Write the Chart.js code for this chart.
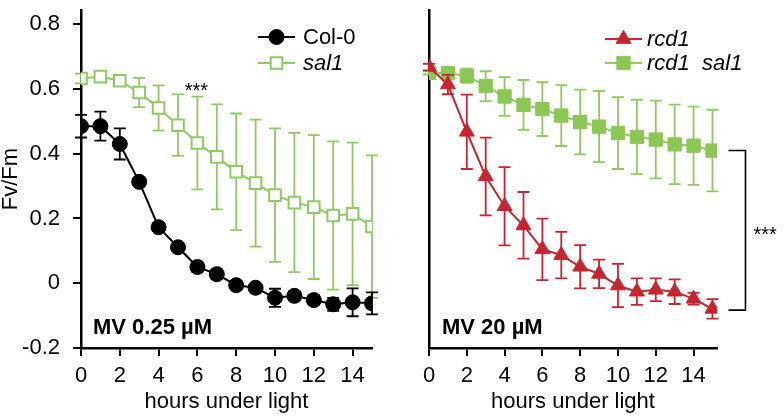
<!DOCTYPE html>
<html>
<head>
<meta charset="utf-8">
<script src="https://cdn.jsdelivr.net/npm/chart.js@4/dist/chart.umd.min.js"></script>
<style>
html,body{margin:0;padding:0;background:#fff;}
#wrap{position:relative;width:784px;height:417px;overflow:hidden;}
#c1{position:absolute;left:0;top:0;}
#c2{position:absolute;left:400px;top:0;}
</style>
</head>
<body>
<div id="wrap">
<canvas id="c1" width="400" height="417"></canvas>
<canvas id="c2" width="384" height="417"></canvas>
</div>
<script>
// ---- data ----
const hours = [0,1,2,3,4,5,6,7,8,9,10,11,12,13,14,15];
const xTicks = [0,2,4,6,8,10,12,14];
const yTicks = [-0.2,0,0.2,0.4,0.6,0.8];

const col0    = [0.485,0.485,0.430,0.313,0.173,0.111,0.050,0.028,-0.006,-0.014,-0.045,-0.039,-0.052,-0.065,-0.059,-0.062];
const col0Err = [0.035,0.045,0.048,0.010,0.012,0.012,0.015,0.015,0.012,0.010,0.028,0.015,0.015,0.020,0.043,0.034];

const sal1    = [0.632,0.638,0.625,0.589,0.541,0.488,0.433,0.390,0.344,0.309,0.272,0.249,0.235,0.209,0.214,0.175];
const sal1Err = [0.015,0.008,0.010,0.045,0.070,0.095,0.143,0.162,0.180,0.196,0.206,0.215,0.222,0.229,0.220,0.220];

const rcd1    = [0.668,0.614,0.468,0.330,0.238,0.179,0.105,0.087,0.051,0.029,-0.007,-0.026,-0.020,-0.026,-0.048,-0.079];
const rcd1Err = [0.010,0.030,0.115,0.120,0.121,0.103,0.095,0.072,0.067,0.044,0.067,0.041,0.035,0.038,0.018,0.030];

const rcdSal1    = [0.650,0.649,0.641,0.609,0.577,0.551,0.538,0.518,0.498,0.484,0.464,0.452,0.444,0.429,0.425,0.410];
const rcdSal1Err = [0.005,0.010,0.022,0.046,0.060,0.077,0.083,0.094,0.100,0.110,0.111,0.115,0.120,0.123,0.121,0.126];

const leftLabels  = ['Col-0','sal1'];
const rightLabels = ['rcd1','rcd1  sal1'];
const leftTitle = 'MV 0.25 µM';
const rightTitle = 'MV 20 µM';
const sigText = '***';

// ---- style ----
const FONT = "'Liberation Sans', Arial, Helvetica, sans-serif";
const GREEN = '#90c862';
const GREEN_FILL = '#8cc654';
const RED = '#c8242f';
Chart.defaults.font.family = FONT;
Chart.defaults.color = '#000';

const pts = arr => arr.map((v,i)=>({x:hours[i], y:v}));

const errorBarPlugin = {
  id: 'errorBars',
  beforeDatasetDraw(chart, args) {
    const ds = chart.data.datasets[args.index];
    if (!ds.errors) return;
    const xs = chart.scales.x, ys = chart.scales.y;
    const ctx = chart.ctx;
    ctx.save();
    ctx.strokeStyle = ds.borderColor;
    ctx.lineWidth = 1.8;
    const cap = 6;
    ds.data.forEach((p,i) => {
      const e = ds.errors[i];
      const x = xs.getPixelForValue(p.x);
      const yt = ys.getPixelForValue(p.y + e);
      const yb = ys.getPixelForValue(p.y - e);
      ctx.beginPath();
      ctx.moveTo(x, yt); ctx.lineTo(x, yb);
      ctx.moveTo(x-cap, yt); ctx.lineTo(x+cap, yt);
      ctx.moveTo(x-cap, yb); ctx.lineTo(x+cap, yb);
      ctx.stroke();
    });
    ctx.restore();
  }
};

const legendPlugin = {
  id: 'customLegend',
  afterDraw(chart, args, opts) {
    const ctx = chart.ctx;
    ctx.save();
    chart.data.datasets.forEach((ds, i) => {
      const y = opts.ys[i];
      const x0 = opts.x0, x1 = opts.x1, xm = (x0+x1)/2;
      ctx.strokeStyle = ds.borderColor;
      ctx.lineWidth = 2;
      ctx.beginPath(); ctx.moveTo(x0,y); ctx.lineTo(x1,y); ctx.stroke();
      ctx.fillStyle = ds.pointBackgroundColor;
      ctx.strokeStyle = ds.pointBorderColor;
      ctx.lineWidth = ds.pointBorderWidth;
      Chart.helpers.drawPoint(ctx, {
        pointStyle: ds.pointStyle, radius: ds.pointRadius, borderWidth: ds.pointBorderWidth
      }, xm, y);
      ctx.fillStyle = '#000';
      ctx.font = (opts.italic[i] ? 'italic ' : '') + '22px ' + FONT;
      ctx.textAlign = 'left';
      ctx.textBaseline = 'middle';
      ctx.fillText(ds.label, opts.tx, y + 1);
    });
    ctx.restore();
  }
};

const annotPlugin = {
  id: 'annot',
  afterDraw(chart, args, opts) {
    const ctx = chart.ctx;
    const xs = chart.scales.x, ys = chart.scales.y;
    ctx.save();
    ctx.fillStyle = '#000';
    ctx.textBaseline = 'middle';
    ctx.font = 'bold 22px ' + FONT;
    ctx.textAlign = 'left';
    ctx.fillText(opts.title, chart.chartArea.left + opts.titleDx, opts.titleY);
    ctx.textBaseline = 'alphabetic';
    if (opts.star) {
      ctx.font = '20px ' + FONT;
      ctx.textAlign = 'center';
      ctx.fillText(sigText, xs.getPixelForValue(opts.star.x), ys.getPixelForValue(opts.star.y) + 10);
    }
    if (opts.bracket) {
      const b = opts.bracket;
      const xa = xs.getPixelForValue(15) + 16;
      const xb = xa + 17;
      const ya = ys.getPixelForValue(b.top);
      const yb = ys.getPixelForValue(b.bottom);
      ctx.strokeStyle = '#000';
      ctx.lineWidth = 1.6;
      ctx.beginPath();
      ctx.moveTo(xa, ya); ctx.lineTo(xb, ya); ctx.lineTo(xb, yb); ctx.lineTo(xa, yb);
      ctx.stroke();
      ctx.font = '20px ' + FONT;
      ctx.textAlign = 'left';
      ctx.fillText(sigText, xb + 8, (ya+yb)/2 + 11);
    }
    ctx.restore();
  }
};

function makeScales(showY, yWidth, xMax) {
  return {
    x: {
      type: 'linear', min: 0, max: xMax,
      afterBuildTicks: s => { s.ticks = xTicks.map(v => ({value: v})); },
      afterFit: s => { s.height = 69; s.paddingLeft = 0; s.paddingRight = 0; },
      grid: { display: true, drawOnChartArea: false, drawTicks: true, tickLength: 8, color: '#000', lineWidth: 2 },
      border: { display: true, color: '#000', width: 2.5 },
      ticks: { font: { size: 22 }, color: '#000', padding: 7, maxRotation: 0, autoSkip: false },
      title: { display: true, text: 'hours under light', font: { size: 22 }, color: '#000', padding: { top: 0, bottom: 2 } }
    },
    y: {
      type: 'linear', min: -0.2, max: 0.843,
      afterBuildTicks: s => { s.ticks = yTicks.map(v => ({value: v})); },
      afterFit: s => { s.width = yWidth; s.paddingTop = 0; s.paddingBottom = 0; },
      grid: { display: true, drawOnChartArea: false, drawTicks: showY, tickLength: 8, color: showY ? '#000' : 'rgba(0,0,0,0)', lineWidth: 2 },
      border: { display: true, color: '#000', width: 2.5 },
      ticks: { display: showY, font: { size: 22 }, color: '#000', padding: 13,
               callback: v => (Math.abs(v) < 1e-9 ? '0' : v.toFixed(1)) },
      title: { display: showY, text: 'Fv/Fm', font: { size: 22, lineHeight: 1 }, color: '#000', padding: { top: 0, bottom: 0 } }
    }
  };
}

const commonOpts = {
  responsive: false,
  animation: false,
  devicePixelRatio: 1,
  plugins: { legend: { display: false }, tooltip: { enabled: false } },
};

new Chart(document.getElementById('c1'), {
  type: 'line',
  data: { datasets: [
    { label: leftLabels[0], data: pts(col0), errors: col0Err, borderColor: '#000', borderWidth: 2,
      pointStyle: 'circle', pointRadius: 7.5, pointBackgroundColor: '#000', pointBorderColor: '#000', pointBorderWidth: 1, tension: 0 },
    { label: leftLabels[1], data: pts(sal1), errors: sal1Err, borderColor: GREEN, borderWidth: 2,
      pointStyle: 'rect', pointRadius: 8.2, pointBackgroundColor: '#fff', pointBorderColor: GREEN, pointBorderWidth: 2, tension: 0 }
  ]},
  options: Object.assign({}, commonOpts, {
    layout: { padding: { left: 0, right: 28, top: 8, bottom: 0 } },
    scales: makeScales(true, 81, 15),
    plugins: Object.assign({}, commonOpts.plugins, {
      customLegend: { x0: 258, x1: 295, tx: 303, ys: [37, 63], italic: [false, true] },
      annot: { title: leftTitle, titleDx: 12, titleY: 328, star: { x: 5.95, y: 0.607 } }
    })
  }),
  plugins: [errorBarPlugin, legendPlugin, annotPlugin]
});

new Chart(document.getElementById('c2'), {
  type: 'line',
  data: { datasets: [
    { label: rightLabels[0], data: pts(rcd1), errors: rcd1Err, borderColor: RED, borderWidth: 2,
      pointStyle: 'triangle', pointRadius: 8.6, pointBackgroundColor: RED, pointBorderColor: RED, pointBorderWidth: 1, tension: 0 },
    { label: rightLabels[1], data: pts(rcdSal1), errors: rcdSal1Err, borderColor: GREEN, borderWidth: 2,
      pointStyle: 'rect', pointRadius: 9.4, pointBackgroundColor: GREEN_FILL, pointBorderColor: GREEN_FILL, pointBorderWidth: 1, tension: 0 }
  ]},
  options: Object.assign({}, commonOpts, {
    layout: { padding: { left: 0, right: 67, top: 8, bottom: 0 } },
    scales: makeScales(false, 29, 15.24),
    plugins: Object.assign({}, commonOpts.plugins, {
      customLegend: { x0: 205, x1: 242, tx: 247, ys: [39, 63], italic: [true, true] },
      annot: { title: rightTitle, titleDx: 13, titleY: 328, bracket: { top: rcdSal1[15], bottom: rcd1[15] - 0.004 } }
    })
  }),
  plugins: [errorBarPlugin, legendPlugin, annotPlugin]
});
</script>
</body>
</html>
